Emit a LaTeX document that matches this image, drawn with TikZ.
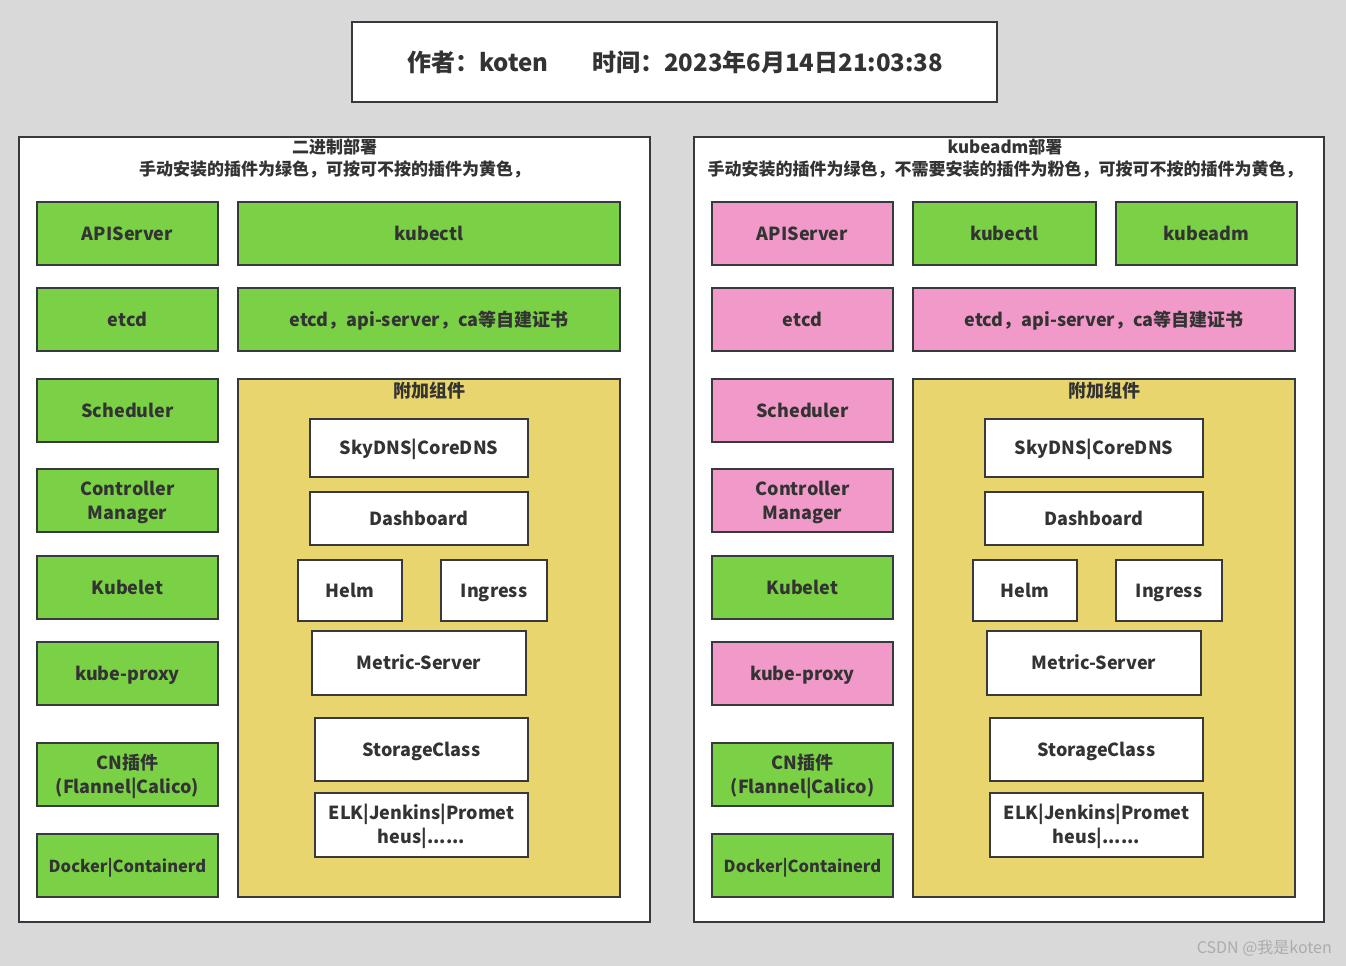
\documentclass[tikz,border=0pt]{standalone}
\usepackage{fontspec}
\setmainfont{Noto Sans CJK SC}
\definecolor{bg}{RGB}{217,217,217}
\definecolor{bord}{RGB}{54,57,61}
\definecolor{kgreen}{RGB}{122,209,70}
\definecolor{kpink}{RGB}{241,154,201}
\definecolor{kyellow}{RGB}{232,213,110}
\definecolor{txt}{RGB}{51,51,51}
\definecolor{wmark}{RGB}{172,172,172}
% box with its label: name, x1, y1, x2, y2, style, text
\newcommand\bx[7]{%
  \node[#6, minimum width={#4-#2}, minimum height={#5-#3}] (#1) at ({(#2+#4)/2},{(#3+#5)/2}) {};
  \node[lbl] (#1-t) at (#1.center) {\strut #7\strut};}
\tikzset{
  panel/.style={draw=bord, line width=1.6pt, fill=white, inner sep=0pt},
  kbox/.style={draw=bord, line width=1.6pt, inner sep=0pt},
  lbl/.style={text=txt, align=center, inner sep=0pt, yshift=-2pt,
    font=\bfseries\fontsize{18}{24}\selectfont},
  small/.style={font=\bfseries\fontsize{17}{22}\selectfont},
  gbox/.style={kbox, fill=kgreen},
  pbox/.style={kbox, fill=kpink},
  wbox/.style={kbox, fill=white},
  ybox/.style={kbox, fill=kyellow},
  head/.style={text=txt, align=center, inner sep=0pt, font=\bfseries\fontsize{17}{22}\selectfont},
  ttl/.style={text=txt, anchor=west, inner sep=0pt, font=\bfseries\fontsize{24}{28}\selectfont},
}
\begin{document}
\begin{tikzpicture}[x=1pt,y=-1pt]
\fill[bg] (0,0) rectangle (1346,966);
\useasboundingbox (0,0) rectangle (1346,966);
% title
\node[panel, minimum width=645, minimum height=80] (title) at (674.5,62) {};
\node[ttl] (author) at (407,62) {作者：koten};
\node[ttl] (time) at (592,62) {时间：2023年6月14日21:03:38};
% left panel
\node[panel, minimum width=631, minimum height=785] (lpanel) at (334.5,529.5) {};
\node[head] (lhead) at (334.5,158) {二进制部署\\手动安装的插件为绿色，可按可不按的插件为黄色，};
\bx{lapi}{37}{202}{218}{265}{gbox}{APIServer}
\bx{letcd}{37}{288}{218}{351}{gbox}{etcd}
\bx{lsch}{37}{379}{218}{442}{gbox}{Scheduler}
\bx{lcm}{37}{469}{218}{532}{gbox}{Controller\\Manager}
\bx{lkubelet}{37}{556}{218}{619}{gbox}{Kubelet}
\bx{lproxy}{37}{642}{218}{705}{gbox}{kube-proxy}
\bx{lcn}{37}{743}{218}{806}{gbox}{CN插件\\(Flannel|Calico)}
\bx{ldocker}{37}{834}{218}{897}{gbox}{\fontsize{16.5}{22}\selectfont Docker|Containerd}
\bx{lkubectl}{238}{202}{620}{265}{gbox}{kubectl}
\bx{lcert}{238}{288}{620}{351}{gbox}{etcd，api-server，ca等自建证书}
\node[ybox, minimum width=382, minimum height=518] (laddon) at (429,638) {};
\node[head, font=\bfseries\fontsize{18}{22}\selectfont] (laddont) at (429,391) {附加组件};
\bx{ldns}{310}{419}{528}{477}{wbox}{SkyDNS|CoreDNS}
\bx{ldash}{310}{492}{528}{545}{wbox}{Dashboard}
\bx{lhelm}{298}{560}{402}{621}{wbox}{Helm}
\bx{lingress}{441}{560}{547}{621}{wbox}{Ingress}
\bx{lmetric}{312}{631}{526}{695}{wbox}{Metric-Server}
\bx{lstorage}{315}{718}{528}{781}{wbox}{StorageClass}
\bx{lelk}{315}{793}{528}{857}{wbox}{ELK|Jenkins|Promet\\heus|......}
% right panel
\node[panel, minimum width=630, minimum height=785] (rpanel) at (1009,529.5) {};
\node[head] (rhead) at (1005,158) {kubeadm部署\\手动安装的插件为绿色，不需要安装的插件为粉色，可按可不按的插件为黄色，};
\bx{rapi}{712}{202}{893}{265}{pbox}{APIServer}
\bx{retcd}{712}{288}{893}{351}{pbox}{etcd}
\bx{rsch}{712}{379}{893}{442}{pbox}{Scheduler}
\bx{rcm}{712}{469}{893}{532}{pbox}{Controller\\Manager}
\bx{rkubelet}{712}{556}{893}{619}{gbox}{Kubelet}
\bx{rproxy}{712}{642}{893}{705}{pbox}{kube-proxy}
\bx{rcn}{712}{743}{893}{806}{gbox}{CN插件\\(Flannel|Calico)}
\bx{rdocker}{712}{834}{893}{897}{gbox}{\fontsize{16.5}{22}\selectfont Docker|Containerd}
\bx{rkubectl}{913}{202}{1096}{265}{gbox}{kubectl}
\bx{rkubeadm}{1116}{202}{1297}{265}{gbox}{kubeadm}
\bx{rcert}{913}{288}{1295}{351}{pbox}{etcd，api-server，ca等自建证书}
\node[ybox, minimum width=382, minimum height=518] (raddon) at (1104,638) {};
\node[head, font=\bfseries\fontsize{18}{22}\selectfont] (raddont) at (1104,391) {附加组件};
\bx{rdns}{985}{419}{1203}{477}{wbox}{SkyDNS|CoreDNS}
\bx{rdash}{985}{492}{1203}{545}{wbox}{Dashboard}
\bx{rhelm}{973}{560}{1077}{621}{wbox}{Helm}
\bx{ringress}{1116}{560}{1222}{621}{wbox}{Ingress}
\bx{rmetric}{987}{631}{1201}{695}{wbox}{Metric-Server}
\bx{rstorage}{990}{718}{1203}{781}{wbox}{StorageClass}
\bx{relk}{990}{793}{1203}{857}{wbox}{ELK|Jenkins|Promet\\heus|......}
% watermark
\node[anchor=east, inner sep=0pt, text=wmark, font=\fontsize{16}{18}\selectfont] (wm) at (1332,948) {CSDN @我是koten};
\end{tikzpicture}
\end{document}
